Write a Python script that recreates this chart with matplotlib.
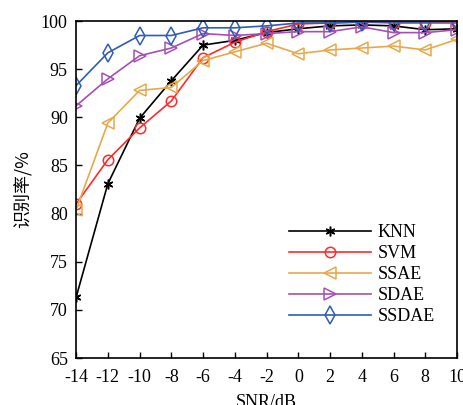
import matplotlib
matplotlib.use('Agg')
import matplotlib.pyplot as plt

snr = [-14, -12, -10, -8, -6, -4, -2, 0, 2, 4, 6, 8, 10]
knn = [71.3, 83.1, 89.9, 93.8, 97.5, 98.0, 98.8, 99.2, 99.5, 99.6, 99.5, 99.1, 99.2]
svm = [81.0, 85.6, 88.9, 91.7, 96.2, 97.8, 98.9, 99.7, 99.8, 99.9, 99.8, 99.8, 99.8]
ssae = [80.4, 89.4, 92.8, 93.1, 95.9, 96.8, 97.7, 96.6, 97.0, 97.2, 97.4, 97.0, 98.1]
sdae = [91.2, 94.0, 96.4, 97.2, 98.7, 98.5, 98.7, 98.9, 98.9, 99.4, 98.8, 98.8, 99.1]
ssdae = [93.3, 96.7, 98.5, 98.5, 99.3, 99.3, 99.5, 99.8, 99.8, 99.9, 99.9, 99.9, 99.95]

labels = ['KNN', 'SVM', 'SSAE', 'SDAE', 'SSDAE']
colors = ['black', '#FF2A2A', '#E8A84A', '#A54FB5', '#2E5CB8']
markers = [(6, 2, 0), 'o', '<', '>', 'd']
msizes = [7, 7.5, 8, 8, 9]

plt.rcParams['font.family'] = ['Liberation Serif', 'Noto Sans CJK SC']
plt.rcParams['axes.unicode_minus'] = False

fig = plt.figure(figsize=(4.64, 4.05), dpi=100)
ax = fig.add_axes([0.164, 0.116, 0.821, 0.832])

for ys, lab, c, m, ms in zip([knn, svm, ssae, sdae, ssdae], labels, colors, markers, msizes):
    ax.plot(snr, ys, color=c, marker=m, markersize=ms, markerfacecolor='none',
            markeredgecolor=c, markeredgewidth=1.1, linewidth=1.2, label=lab)

ax.set_xlim(-14, 10)
ax.set_ylim(65, 100)
ax.set_xticks(range(-14, 11, 2))
ax.set_yticks(range(65, 101, 5))
ax.tick_params(direction='in', labelsize=13, length=4, width=1)
ax.tick_params(axis='x', pad=8)
ax.tick_params(axis='y', pad=6)
for s in ax.spines.values():
    s.set_linewidth(1.2)
ax.set_xlabel('SNR/dB', fontsize=13, labelpad=6)
ax.set_ylabel('识别率/%', fontsize=13, family=['Noto Sans CJK SC'], labelpad=6)

ax.legend(loc='lower right', bbox_to_anchor=(0.985, 0.05), frameon=False,
          fontsize=13, handlelength=4.5, labelspacing=0.22, handletextpad=0.4)

fig.savefig('out.png', dpi=100)
